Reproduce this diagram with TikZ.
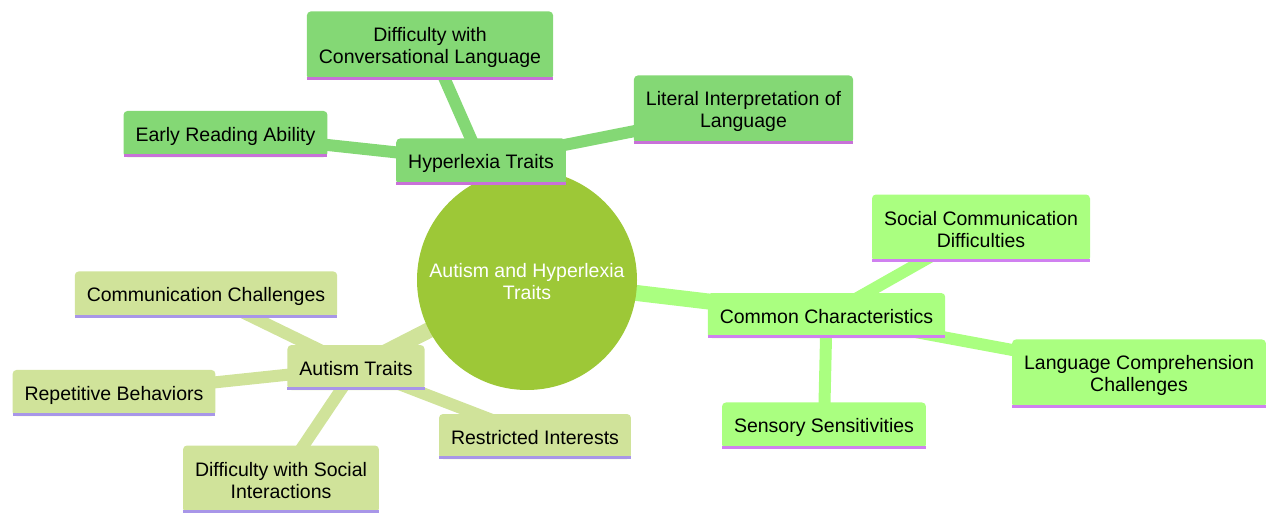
\documentclass[tikz,border=0pt]{standalone}
\usepackage{fontspec}
\setmainfont{Liberation Sans}
\pgfdeclarelayer{background}
\pgfsetlayers{background,main}
\definecolor{rootgreen}{HTML}{9DC837}
\definecolor{hypgreen}{HTML}{84D875}
\definecolor{hypline}{HTML}{C871D8}
\definecolor{comgreen}{HTML}{AAFF80}
\definecolor{comline}{HTML}{D080F0}
\definecolor{autgreen}{HTML}{D0E39A}
\definecolor{autline}{HTML}{A896E8}
\newcommand\nodestrut{\rule[-2.9pt]{0pt}{21.8pt}}
\newcommand\twolines[2]{\rule{0pt}{18.9pt}#1\\#2\rule[-2.9pt]{0pt}{2.9pt}}
\tikzset{
  topic/.style 2 args={fill=#1, rounded corners=4pt, inner xsep=12pt, inner ysep=11.6pt,
    minimum height=45pt, outer sep=0pt, align=center,
    append after command={([yshift=1.5pt]\tikzlastnode.south west)
      edge[draw=#2, line width=3pt] ([yshift=1.5pt]\tikzlastnode.south east)}},
  hyp/.style={topic={hypgreen}{hypline}},
  com/.style={topic={comgreen}{comline}},
  aut/.style={topic={autgreen}{autline}},
  branch/.style={draw=#1, line width=16pt},
  twig/.style={draw=#1, line width=12pt},
}
\begin{document}
\begin{tikzpicture}[x=1pt, y=-1pt, font=\fontsize{19.5}{22}\selectfont]
    \useasboundingbox (0,0) rectangle (1280,524);
    % root
    \node[circle, fill=rootgreen, text=white, minimum size=220pt, inner sep=0pt, align=center]
      (root) at (527,280) {\twolines{Autism and Hyperlexia}{Traits}};
    % hyperlexia branch
    \node[hyp] (hyp) at (481,161.5) {\nodestrut Hyperlexia Traits};
    \node[hyp] (conv) at (430,45.5) {\twolines{Difficulty with}{Conversational Language}};
    \node[hyp] (erly) at (225.5,134) {\nodestrut Early Reading Ability};
    \node[hyp] (litr) at (743.5,109.5) {\twolines{Literal Interpretation of}{Language}};
    % common branch
    \node[com] (com) at (826.5,315.5) {\nodestrut Common Characteristics};
    \node[com] (soc) at (981,228) {\twolines{Social Communication}{Difficulties}};
    \node[com] (lang) at (1139,373.5) {\twolines{Language Comprehension}{Challenges}};
    \node[com] (sens) at (824,425.5) {\nodestrut Sensory Sensitivities};
    % autism branch
    \node[aut] (aut) at (356,367.5) {\nodestrut Autism Traits};
    \node[aut] (cmc) at (206,294.5) {\nodestrut Communication Challenges};
    \node[aut] (rep) at (114,393) {\nodestrut Repetitive Behaviors};
    \node[aut] (rst) at (535,436.5) {\nodestrut Restricted Interests};
    \node[aut] (dsi) at (281,479) {\twolines{Difficulty with Social}{Interactions}};
    \begin{pgfonlayer}{background}
      \draw[branch=hypgreen] (root.center) -- (hyp.center);
      \draw[branch=comgreen] (root.center) -- (com.center);
      \draw[branch=autgreen] (root.center) -- (aut.center);
      \foreach \leaf in {conv,erly,litr}
        \draw[twig=hypgreen] (hyp.center) -- (\leaf.center);
      \foreach \leaf in {soc,lang,sens}
        \draw[twig=comgreen] (com.center) -- (\leaf.center);
      \foreach \leaf in {cmc,rep,rst,dsi}
        \draw[twig=autgreen] (aut.center) -- (\leaf.center);
    \end{pgfonlayer}
\end{tikzpicture}
\end{document}
